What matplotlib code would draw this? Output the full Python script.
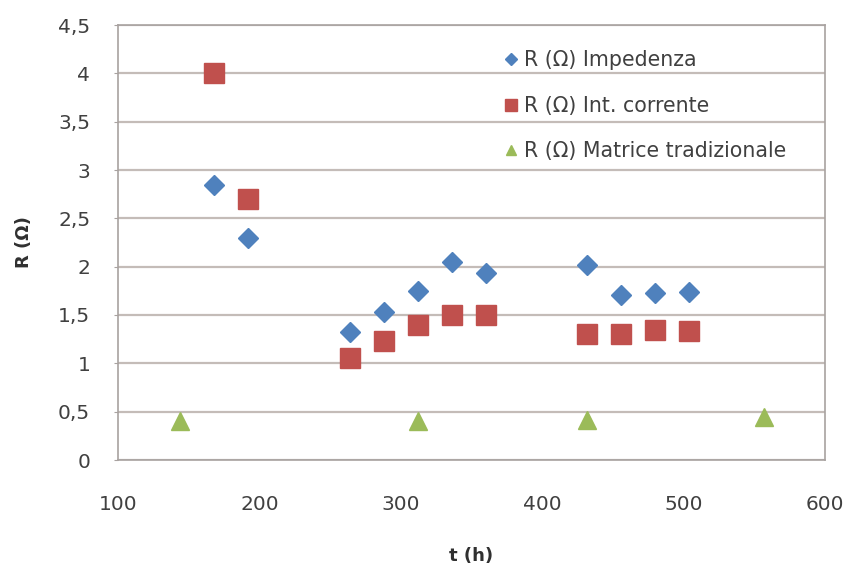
import matplotlib.pyplot as plt
from matplotlib.ticker import FuncFormatter

# data
t_imp = [168, 192, 264, 288, 312, 336, 360, 432, 456, 480, 504]
r_imp = [2.85, 2.30, 1.32, 1.53, 1.75, 2.05, 1.93, 2.02, 1.71, 1.73, 1.74]

t_int = [168, 192, 264, 288, 312, 336, 360, 432, 456, 480, 504]
r_int = [4.0, 2.7, 1.06, 1.23, 1.40, 1.50, 1.50, 1.30, 1.30, 1.35, 1.33]

t_mat = [144, 312, 432, 557]
r_mat = [0.40, 0.40, 0.41, 0.44]

labels = ["R (\u03a9) Impedenza", "R (\u03a9) Int. corrente", "R (\u03a9) Matrice tradizionale"]

plt.rcParams['font.family'] = ['DejaVu Sans']

W, H = 847, 565
fig = plt.figure(figsize=(W / 100, H / 100), dpi=100)
# plot area in pixels: left 118, right 825, top 25, bottom 460
ax = fig.add_axes([118 / W, 1 - 460 / H, (825 - 118) / W, (460 - 25) / H])

ax.plot(t_imp, r_imp, linestyle='none', marker='D', ms=10, color='#4F81BD', label=labels[0])
ax.plot(t_int, r_int, linestyle='none', marker='s', ms=15, color='#C0504D', label=labels[1])
ax.plot(t_mat, r_mat, linestyle='none', marker='^', ms=12.5, color='#9BBB59', label=labels[2])

ax.set_xlim(100, 600)
ax.set_ylim(0, 4.5)
ax.set_xticks(range(100, 601, 100))
ax.set_yticks([i * 0.5 for i in range(10)])
ax.yaxis.set_major_formatter(FuncFormatter(lambda v, p: ('%g' % v).replace('.', ',')))

ax.grid(axis='y', color='#C4BCB8', lw=1.6)
ax.set_axisbelow(True)
for s in ax.spines.values():
    s.set_color('#A8A2A0')
    s.set_linewidth(1.2)

ax.tick_params(axis='y', length=3, color='#A8A2A0', labelsize=14.5, labelcolor='#404040', pad=17)
ax.tick_params(axis='x', length=0, labelsize=14.5, labelcolor='#404040', pad=25)

ax.set_xlabel("t (h)", fontsize=13, fontweight='bold', color='#303030', labelpad=24)
ax.set_ylabel("R (\u03a9)", fontsize=13, fontweight='bold', color='#303030', labelpad=18)

ax.legend(loc='upper left', bbox_to_anchor=(505 / W, 1 - 50 / H), bbox_transform=fig.transFigure,
          frameon=False, fontsize=14.8, labelspacing=1.25, borderpad=0, borderaxespad=0,
          handlelength=0.6, handletextpad=0.3, markerscale=0.6, labelcolor='#404040')

fig.savefig('out.png', dpi=100)
